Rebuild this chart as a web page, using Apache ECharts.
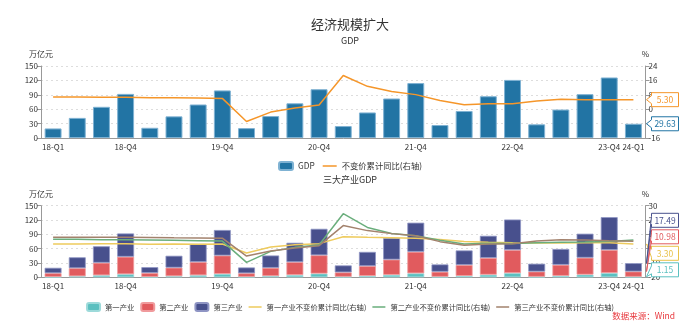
<!DOCTYPE html>
<html><head><meta charset="utf-8">
<script src="https://cdn.jsdelivr.net/npm/echarts@6/dist/echarts.min.js"></script>
<style>html,body{margin:0;padding:0;background:#fff}#c{width:700px;height:326px}</style>
</head><body><div id="c"></div>
<script>
// ---------- data ----------
const categories = ['18-Q1','18-Q2','18-Q3','18-Q4','19-Q1','19-Q2','19-Q3','19-Q4','20-Q1','20-Q2','20-Q3','20-Q4','21-Q1','21-Q2','21-Q3','21-Q4','22-Q1','22-Q2','22-Q3','22-Q4','23-Q1','23-Q2','23-Q3','23-Q4','24-Q1'];
const xLabelIndex = [0,3,7,11,15,19,23,24];
const gdp = [19.9,41.9,65.0,91.9, 21.3,45.1,69.8,99.1, 20.6,45.7,72.3,101.6, 24.9,53.2,82.3,114.4, 27.0,56.3,87.0,121.0, 28.5,59.3,91.3,126.1, 29.63];
const gdpGrowth = [6.8,6.8,6.7,6.7, 6.3,6.3,6.2,6.0, -6.8,-1.6,0.7,2.3, 18.7,12.7,9.8,8.1, 4.8,2.5,3.0,3.0, 4.5,5.5,5.2,5.2, 5.30];
const primary = [0.89,2.21,4.20,6.47, 0.88,2.32,4.30,7.05, 1.02,2.61,4.81,7.78, 1.13,2.84,5.14,8.31, 1.10,2.91,5.48,8.83, 1.16,3.04,5.64,8.98, 1.15];
const secondary = [7.75,16.9,26.3,36.6, 8.2,17.9,27.7,38.6, 7.4,17.2,27.0,38.4, 9.2,20.7,32.0,45.1, 10.5,22.9,35.1,48.3, 10.8,23.1,35.4,48.3, 10.98];
const tertiary = [11.26,22.8,34.5,48.8, 12.2,24.9,37.8,53.4, 12.2,25.9,40.5,55.4, 14.6,29.7,45.2,61.0, 15.4,30.5,46.4,63.9, 16.5,33.2,50.3,68.8, 17.49];
const primaryGrowth = [3.3,3.3,3.4,3.5, 3.1,3.2,3.1,3.2, -3.0,1.2,2.7,3.5, 8.3,7.9,7.6,7.3, 6.4,5.0,4.4,4.1, 3.9,3.9,4.1,4.2, 3.30];
const secondaryGrowth = [6.6,6.5,6.3,6.2, 6.1,5.9,5.6,5.3, -9.6,-1.9,0.9,2.6, 24.4,14.8,10.6,9.0, 5.8,3.2,3.7,3.6, 4.2,4.4,4.6,5.0, 6.0];
const tertiaryGrowth = [8.0,8.0,7.9,8.0, 7.8,7.6,7.5,7.3, -5.2,-1.6,0.4,2.1, 16.1,12.6,10.5,9.0, 4.9,2.4,3.2,3.4, 5.4,6.3,6.1,5.6, 5.2];
const leftTicks = [0,150,30];
const rightTopTicks = [-16,24,8];
const rightBottomTicks = [-20,30,10];

// ---------- styles ----------
const FONT = 'Noto Sans CJK SC';
const C = {gdp:'#2274a4', gdpLine:'#f5962a', p:'#5bc0c0', s:'#e15b5e', t:'#48508d', pg:'#eecb5e', sg:'#6aae7c', tg:'#a3826d'};
const txt = '#333';
const LINE_ICON = 'path://M0,0 h0.01 v10 h-0.01 Z M0,4 h20 v2 h-20 Z';
const showIdx = (i) => xLabelIndex.indexOf(i) >= 0;

function xAxis(gi){
  return {type:'category', gridIndex:gi, data:categories,
    axisLine:{lineStyle:{color:'#999'}},
    axisTick:{interval:(i)=>showIdx(i), alignWithLabel:true, length:4, lineStyle:{color:'#999'}},
    axisLabel:{interval:(i)=>showIdx(i), fontSize:8, color:txt, margin:5, fontFamily:FONT}};
}
function yAxis(gi, t, pos, name, split){
  return {type:'value', gridIndex:gi, position:pos, min:t[0], max:t[1], interval:t[2],
    name:name, nameGap:8, nameTextStyle:{fontSize:8, color:txt, fontFamily:FONT},
    axisLine:{show:true, lineStyle:{color:'#999'}},
    axisTick:{show:true, length:4, lineStyle:{color:'#999'}},
    axisLabel:{fontSize:8, color:txt, margin:3, fontFamily:FONT},
    splitLine:{show:split, lineStyle:{type:[2,3], color:'#ddd'}}};
}
const barBase = {type:'bar', barWidth:'70%'};
const lineBase = {type:'line', symbol:'none', showSymbol:false, lineStyle:{width:1.5}};
const lineNames = ['不变价累计同比(右轴)','第一产业不变价累计同比(右轴)','第二产业不变价累计同比(右轴)','第三产业不变价累计同比(右轴)'];
const legendItem = (name) => lineNames.indexOf(name) >= 0 ? {name:name, icon:LINE_ICON} : {name:name};

const option = {
  animation:false,
  textStyle:{fontFamily:FONT},
  title:[
    {text:'经济规模扩大', subtext:'GDP', left:'center', top:13, itemGap:5,
     textStyle:{fontSize:13, fontWeight:'normal', color:txt, fontFamily:FONT},
     subtextStyle:{fontSize:9, color:txt, fontFamily:FONT}},
    {text:'三大产业GDP', left:'center', top:170, textStyle:{fontSize:9, fontWeight:'normal', color:txt, fontFamily:FONT}}
  ],
  legend:[
    {top:156, left:'center', itemWidth:14, itemHeight:8, itemGap:8,
     textStyle:{fontSize:8.3, color:txt, fontFamily:FONT}, data:['GDP','不变价累计同比(右轴)'].map(legendItem)},
    {top:297, left:'center', itemWidth:13, itemHeight:8, itemGap:6,
     textStyle:{fontSize:7.3, color:txt, fontFamily:FONT},
     data:['第一产业','第二产业','第三产业','第一产业不变价累计同比(右轴)','第二产业不变价累计同比(右轴)','第三产业不变价累计同比(右轴)'].map(legendItem)}
  ],
  grid:[
    {left:41, right:54.5, top:66, height:72},
    {left:41, right:54.5, top:205.7, height:71.6}
  ],
  xAxis:[xAxis(0), xAxis(1)],
  yAxis:[
    yAxis(0, leftTicks, 'left', '万亿元', true),
    yAxis(0, rightTopTicks, 'right', '%', false),
    yAxis(1, leftTicks, 'left', '万亿元', true),
    yAxis(1, rightBottomTicks, 'right', '%', false)
  ],
  series:[
    Object.assign({}, barBase, {name:'GDP', xAxisIndex:0, yAxisIndex:0, data:gdp,
      itemStyle:{color:C.gdp, borderColor:'#7fb2d3', borderWidth:1}}),
    Object.assign({}, lineBase, {name:'不变价累计同比(右轴)', xAxisIndex:0, yAxisIndex:1, data:gdpGrowth,
      itemStyle:{color:C.gdpLine}, lineStyle:{width:1.5, color:C.gdpLine}}),
    Object.assign({}, barBase, {name:'第一产业', stack:'ind', xAxisIndex:1, yAxisIndex:2, data:primary,
      itemStyle:{color:C.p, borderColor:'#9ddada', borderWidth:0.8}}),
    Object.assign({}, barBase, {name:'第二产业', stack:'ind', xAxisIndex:1, yAxisIndex:2, data:secondary,
      itemStyle:{color:C.s, borderColor:'#f09a9c', borderWidth:0.8}}),
    Object.assign({}, barBase, {name:'第三产业', stack:'ind', xAxisIndex:1, yAxisIndex:2, data:tertiary,
      itemStyle:{color:C.t, borderColor:'#8f95c4', borderWidth:0.8}}),
    Object.assign({}, lineBase, {name:'第一产业不变价累计同比(右轴)', xAxisIndex:1, yAxisIndex:3, data:primaryGrowth,
      itemStyle:{color:C.pg}, lineStyle:{width:1.5, color:C.pg}}),
    Object.assign({}, lineBase, {name:'第二产业不变价累计同比(右轴)', xAxisIndex:1, yAxisIndex:3, data:secondaryGrowth,
      itemStyle:{color:C.sg}, lineStyle:{width:1.5, color:C.sg}}),
    Object.assign({}, lineBase, {name:'第三产业不变价累计同比(右轴)', xAxisIndex:1, yAxisIndex:3, data:tertiaryGrowth,
      itemStyle:{color:C.tg}, lineStyle:{width:1.5, color:C.tg}})
  ]
};

const chart = echarts.init(document.getElementById('c'), null, {renderer:'canvas'});
chart.setOption(option);

// ---------- value callouts next to the right axis ----------
const n = categories.length;
const last = n - 1;
const x0 = chart.convertToPixel({xAxisIndex:0}, categories[0]);
const xL = chart.convertToPixel({xAxisIndex:0}, categories[last]);
const band = (xL - x0) / (n - 1);
const axisX = xL + band / 2;

function callout(tipY, cy, text, color){
  const left = axisX + 6, w = 27, h = 14, nh = 4;
  return [
    {type:'polygon', z:100, shape:{points:[[axisX+1, tipY],[left, cy-nh],[left, cy-h/2],[left+w, cy-h/2],[left+w, cy+h/2],[left, cy+h/2],[left, cy+nh]]},
     style:{fill:'#fff', stroke:color, lineWidth:1}},
    {type:'text', z:101, x:left + w/2, y:cy,
     style:{text:text, fill:color, font:'8.5px "'+FONT+'"', align:'center', verticalAlign:'middle'}}
  ];
}
const g = [];
const yGdp = chart.convertToPixel({yAxisIndex:0}, gdp[last]);
const yGrowth = chart.convertToPixel({yAxisIndex:1}, gdpGrowth[last]);
g.push(...callout(yGrowth, yGrowth, gdpGrowth[last].toFixed(2), C.gdpLine));
g.push(...callout(yGdp, yGdp, gdp[last].toFixed(2), C.gdp));

const gridBottom = chart.convertToPixel({yAxisIndex:2}, 0);
const stackP = primary[last], stackS = stackP + secondary[last], stackT = stackS + tertiary[last];
const bottomItems = [
  {tip: chart.convertToPixel({yAxisIndex:2}, stackP), text: primary[last].toFixed(2), color: C.p},
  {tip: chart.convertToPixel({yAxisIndex:3}, primaryGrowth[last]), text: primaryGrowth[last].toFixed(2), color: '#e8c24a'},
  {tip: chart.convertToPixel({yAxisIndex:2}, stackS), text: secondary[last].toFixed(2), color: C.s},
  {tip: chart.convertToPixel({yAxisIndex:2}, stackT), text: tertiary[last].toFixed(2), color: C.t}
];
bottomItems.forEach((it, i) => {
  const cy = gridBottom - 7.5 - i * 16.5;
  g.push(...callout(it.tip, cy, it.text, it.color));
});
g.push({type:'text', z:100, right:25, top:312,
  style:{text:'数据来源：Wind', fill:'#e8383d', font:'8.5px "'+FONT+'"'}});
chart.setOption({graphic:g});
</script>
</body></html>
